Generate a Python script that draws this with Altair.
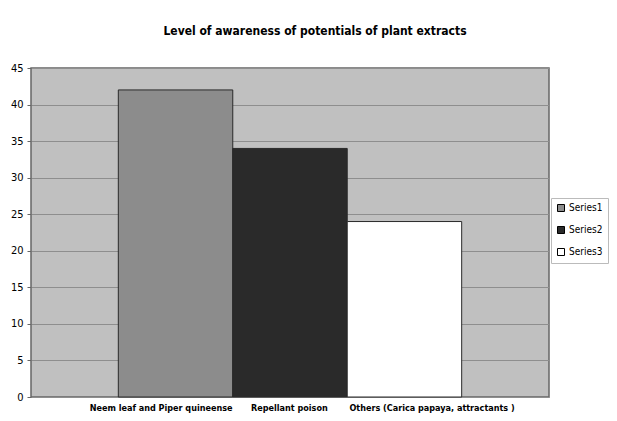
import altair as alt
import pandas as pd

categories = ["Neem leaf and Piper quineense", "Repellant poison", "Others (Carica papaya, attractants )"]
series = ["Series1", "Series2", "Series3"]
values = [42, 34, 24]
colors = ["#8c8c8c", "#2a2a2a", "#ffffff"]

df = pd.DataFrame({"category": categories, "series": series, "value": values})

FONT = "DejaVu Sans Condensed, Liberation Sans, sans-serif"
t1 = f"datum.value === '{categories[0]}'"
t2 = f"datum.value === '{categories[1]}'"

bars = alt.Chart(df).mark_bar(stroke="#2a2a2a", strokeWidth=1).encode(
    x=alt.X("category:N", sort=categories,
            scale=alt.Scale(paddingInner=0, paddingOuter=0.763),
            axis=alt.Axis(title=None, labelAngle=0, domain=False, ticks=False,
                          labelFont=FONT, labelFontWeight="bold", labelFontSize=9,
                          labelColor="#000", labelPadding=6, grid=False, labelLimit=300,
                          labelAlign={"condition": {"test": t1, "value": "right"}, "value": "left"},
                          labelOffset={"condition": [{"test": t1, "value": 57},
                                                     {"test": t2, "value": -39}],
                                       "value": -55})),
    y=alt.Y("value:Q", scale=alt.Scale(domain=[0, 45]),
            axis=alt.Axis(title=None, values=list(range(0, 50, 5)), tickSize=4,
                          tickColor="#666", domain=False, labelFont=FONT,
                          labelFontSize=11, labelColor="#000", labelPadding=4,
                          gridColor="#8e8e8e", gridWidth=1)),
    color=alt.Color("series:N", scale=alt.Scale(domain=series, range=colors),
                    legend=alt.Legend(title=None, orient="none", legendX=520, legendY=130,
                                      symbolType="square", symbolSize=49,
                                      symbolStrokeColor="#000", symbolStrokeWidth=1,
                                      labelFont=FONT, labelFontSize=10, labelColor="#000",
                                      fillColor="#ffffff", strokeColor="#bbbbbb",
                                      padding=5, rowPadding=10, labelOffset=3)),
)

chart = bars.properties(
    width=518, height=329,
    background="#ffffff",
    title=alt.TitleParams("Level of awareness of potentials of plant extracts",
                          font=FONT, fontSize=12, fontWeight="bold", color="#000",
                          anchor="middle", dx=25, offset=24),
    padding={"left": 23, "top": 60, "right": 60, "bottom": 16},
    autosize=alt.AutoSizeParams(type="none"),
).configure_view(fill="#c0c0c0", stroke="#666666", strokeWidth=1.5)

chart.save("out.html", embed_options={"renderer": "svg", "actions": False})
